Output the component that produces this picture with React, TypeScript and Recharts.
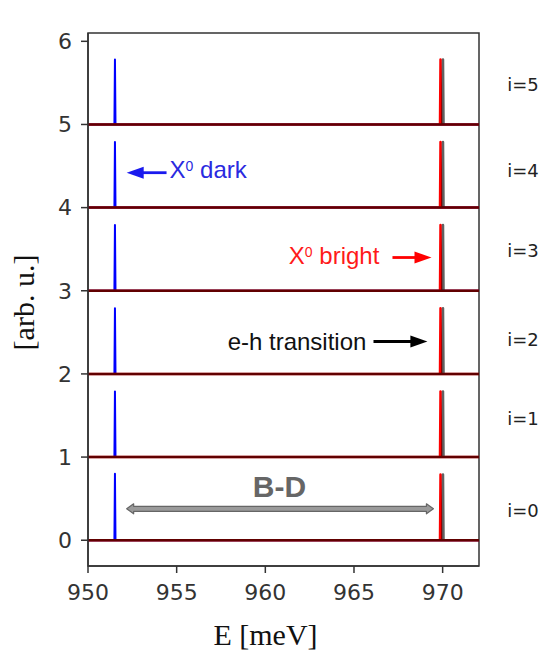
import {
  Line,
  LineChart,
  ReferenceArea,
  ReferenceDot,
  ReferenceLine,
  XAxis,
  YAxis,
} from "recharts";

// axis ranges and ticks
const eMin = 950;
const eMax = 972.05;
const iMin = -0.31;
const iMax = 6.1;
const xTicks = [950, 955, 960, 965, 970];
const yTicks = [0, 1, 2, 3, 4, 5, 6];

// spectra: one offset per i, three sharp peaks each
const offsets = [0, 1, 2, 3, 4, 5];
const darkPeakE = 951.52;
const brightPeakE = 969.88;
const ehPeakE = 970.02;
const darkHeights = [0.8, 0.79, 0.79, 0.79, 0.79, 0.78];
const brightHeights = [0.79, 0.79, 0.79, 0.79, 0.79, 0.78];
const ehHeights = [0.79, 0.79, 0.79, 0.79, 0.79, 0.78];
const peakHalfWidth = 0.03;

// i labels on the right
const iLabels = ["i=0", "i=1", "i=2", "i=3", "i=4", "i=5"];
const iLabelY = [0.28, 1.38, 2.33, 3.41, 4.37, 5.4];
const iLabelE = 973.64;

type Pt = { E: number; I: number };

const spectrum = (center: number, offset: number, height: number): Pt[] => [
  { E: eMin, I: offset },
  { E: center - peakHalfWidth, I: offset },
  { E: center, I: offset + height },
  { E: center + peakHalfWidth, I: offset },
  { E: eMax, I: offset },
];

const tickStyle = { fill: "#333", fontSize: 22, fontFamily: "DejaVu Sans" };
const sans = "Liberation Sans, Arial, sans-serif";
const serif = "Liberation Serif, serif";

function arrowShape(color: string, double = false) {
  return (p: any) => {
    const { x1, y1, x2, y2 } = p;
    const dir = Math.sign(x2 - x1);
    if (double) {
      const hl = 7;
      const hw = 5;
      const sw = 2.5;
      const pts = [
        [x1, y1],
        [x1 + hl, y1 - hw],
        [x1 + hl, y1 - sw],
        [x2 - hl, y2 - sw],
        [x2 - hl, y2 - hw],
        [x2, y2],
        [x2 - hl, y2 + hw],
        [x2 - hl, y2 + sw],
        [x1 + hl, y1 + sw],
        [x1 + hl, y1 + hw],
      ];
      return (
        <polygon
          points={pts.map((q) => q.join(",")).join(" ")}
          fill="#9a9a9a"
          stroke="#666"
          strokeWidth={1.2}
          strokeLinejoin="round"
        />
      );
    }
    const hl = 17;
    const hw = 6;
    return (
      <g>
        <line x1={x1} y1={y1} x2={x2 - dir * hl * 0.6} y2={y2} stroke={color} strokeWidth={2.8} />
        <polygon
          points={`${x2},${y2} ${x2 - dir * hl},${y2 - hw} ${x2 - dir * hl},${y2 + hw}`}
          fill={color}
        />
      </g>
    );
  };
}

function textShape(
  content: React.ReactNode,
  opts: { fill: string; size: number; anchor?: string; family?: string; weight?: string },
) {
  return (p: any) => (
    <text
      x={p.cx}
      y={p.cy}
      fill={opts.fill}
      fontSize={opts.size}
      fontFamily={opts.family ?? sans}
      fontWeight={opts.weight ?? "normal"}
      textAnchor={opts.anchor ?? "start"}
    >
      {content}
    </text>
  );
}

const sup = (base: string, rest: string) => (
  <>
    {base}
    <tspan dy={-7} fontSize={14}>
      0
    </tspan>
    <tspan dy={7}>{rest}</tspan>
  </>
);

export default function App() {
  return (
    <div style={{ position: "absolute", left: 0, top: 0, width: 556, height: 657, background: "#fff" }}>
      <LineChart width={556} height={657} margin={{ top: 33, right: 77, bottom: 51, left: 28 }}>
        <XAxis
          type="number"
          dataKey="E"
          domain={[eMin, eMax]}
          ticks={xTicks}
          allowDataOverflow
          height={40}
          tick={tickStyle}
          tickSize={7}
          tickMargin={11}
          tickLine={{ stroke: "#333", strokeWidth: 1.5 }}
          axisLine={{ stroke: "#333", strokeWidth: 1.5 }}
          label={{
            content: ({ viewBox }: any) => (
              <text
                x={viewBox.x + viewBox.width / 2 - 18}
                y={viewBox.y + 79}
                textAnchor="middle"
                fontFamily={serif}
                fontSize={30}
                fill="#111"
              >
                E [meV]
              </text>
            ),
          }}
        />
        <YAxis
          type="number"
          domain={[iMin, iMax]}
          ticks={yTicks}
          allowDataOverflow
          width={60}
          tick={tickStyle}
          tickSize={7}
          tickMargin={9}
          tickLine={{ stroke: "#333", strokeWidth: 1.5 }}
          axisLine={{ stroke: "#333", strokeWidth: 1.5 }}
          label={{
            content: ({ viewBox }: any) => {
              const cx = viewBox.x - 5;
              const cy = viewBox.y + viewBox.height / 2 + 3;
              return (
                <text
                  x={cx}
                  y={cy}
                  transform={`rotate(-90 ${cx} ${cy})`}
                  textAnchor="middle"
                  dominantBaseline="central"
                  fontFamily={serif}
                  fontSize={30}
                  fill="#111"
                >
                  [arb. u.]
                </text>
              );
            },
          }}
        />
        <ReferenceArea
          x1={eMin}
          x2={eMax}
          y1={iMin}
          y2={iMax}
          fill="none"
          fillOpacity={0}
          stroke="#333"
          strokeWidth={1.5}
          ifOverflow="visible"
        />
        {offsets.map((o, k) => (
          <Line
            key={`dark-${o}`}
            data={spectrum(darkPeakE, o, darkHeights[k])}
            dataKey="I"
            type="linear"
            stroke="#0000ff"
            strokeWidth={2}
            strokeLinejoin="round"
            dot={false}
            isAnimationActive={false}
          />
        ))}
        {offsets.map((o, k) => (
          <Line
            key={`bright-${o}`}
            data={spectrum(brightPeakE, o, brightHeights[k])}
            dataKey="I"
            type="linear"
            stroke="#ff0000"
            strokeWidth={2.5}
            strokeLinejoin="round"
            dot={false}
            isAnimationActive={false}
          />
        ))}
        {offsets.map((o, k) => (
          <Line
            key={`eh-${o}`}
            data={spectrum(ehPeakE, o, ehHeights[k])}
            dataKey="I"
            type="linear"
            stroke="#000"
            strokeOpacity={0.62}
            strokeWidth={2.5}
            strokeLinejoin="round"
            dot={false}
            isAnimationActive={false}
          />
        ))}

        {/* annotations */}
        <ReferenceLine
          segment={[{ x: 954.43, y: 4.42 }, { x: 952.18, y: 4.42 }]}
          shape={arrowShape("#1a1aee")}
        />
        <ReferenceDot
          x={954.6}
          y={4.36}
          r={0}
          ifOverflow="visible"
          shape={textShape(sup("X", " dark"), { fill: "#2a2ae0", size: 24 })}
        />
        <ReferenceLine
          segment={[{ x: 967.17, y: 3.4 }, { x: 969.37, y: 3.4 }]}
          shape={arrowShape("#ff0000")}
        />
        <ReferenceDot
          x={966.43}
          y={3.32}
          r={0}
          ifOverflow="visible"
          shape={textShape(sup("X", " bright"), { fill: "#ff1a1a", size: 24, anchor: "end" })}
        />
        <ReferenceLine
          segment={[{ x: 966.1, y: 2.39 }, { x: 969.14, y: 2.39 }]}
          shape={arrowShape("#000")}
        />
        <ReferenceDot
          x={965.7}
          y={2.29}
          r={0}
          ifOverflow="visible"
          shape={textShape("e-h transition", { fill: "#111", size: 24, anchor: "end" })}
        />
        <ReferenceLine
          segment={[{ x: 952.18, y: 0.378 }, { x: 969.48, y: 0.378 }]}
          shape={arrowShape("#999", true)}
        />
        <ReferenceDot
          x={960.8}
          y={0.52}
          r={0}
          ifOverflow="visible"
          shape={textShape("B-D", { fill: "#666", size: 30, anchor: "middle", weight: "bold" })}
        />
        {iLabels.map((t, k) => (
          <ReferenceDot
            key={t}
            x={iLabelE}
            y={iLabelY[k]}
            r={0}
            ifOverflow="visible"
            shape={textShape(t, { fill: "#222", size: 18, family: "DejaVu Sans" })}
          />
        ))}
      </LineChart>
    </div>
  );
}
